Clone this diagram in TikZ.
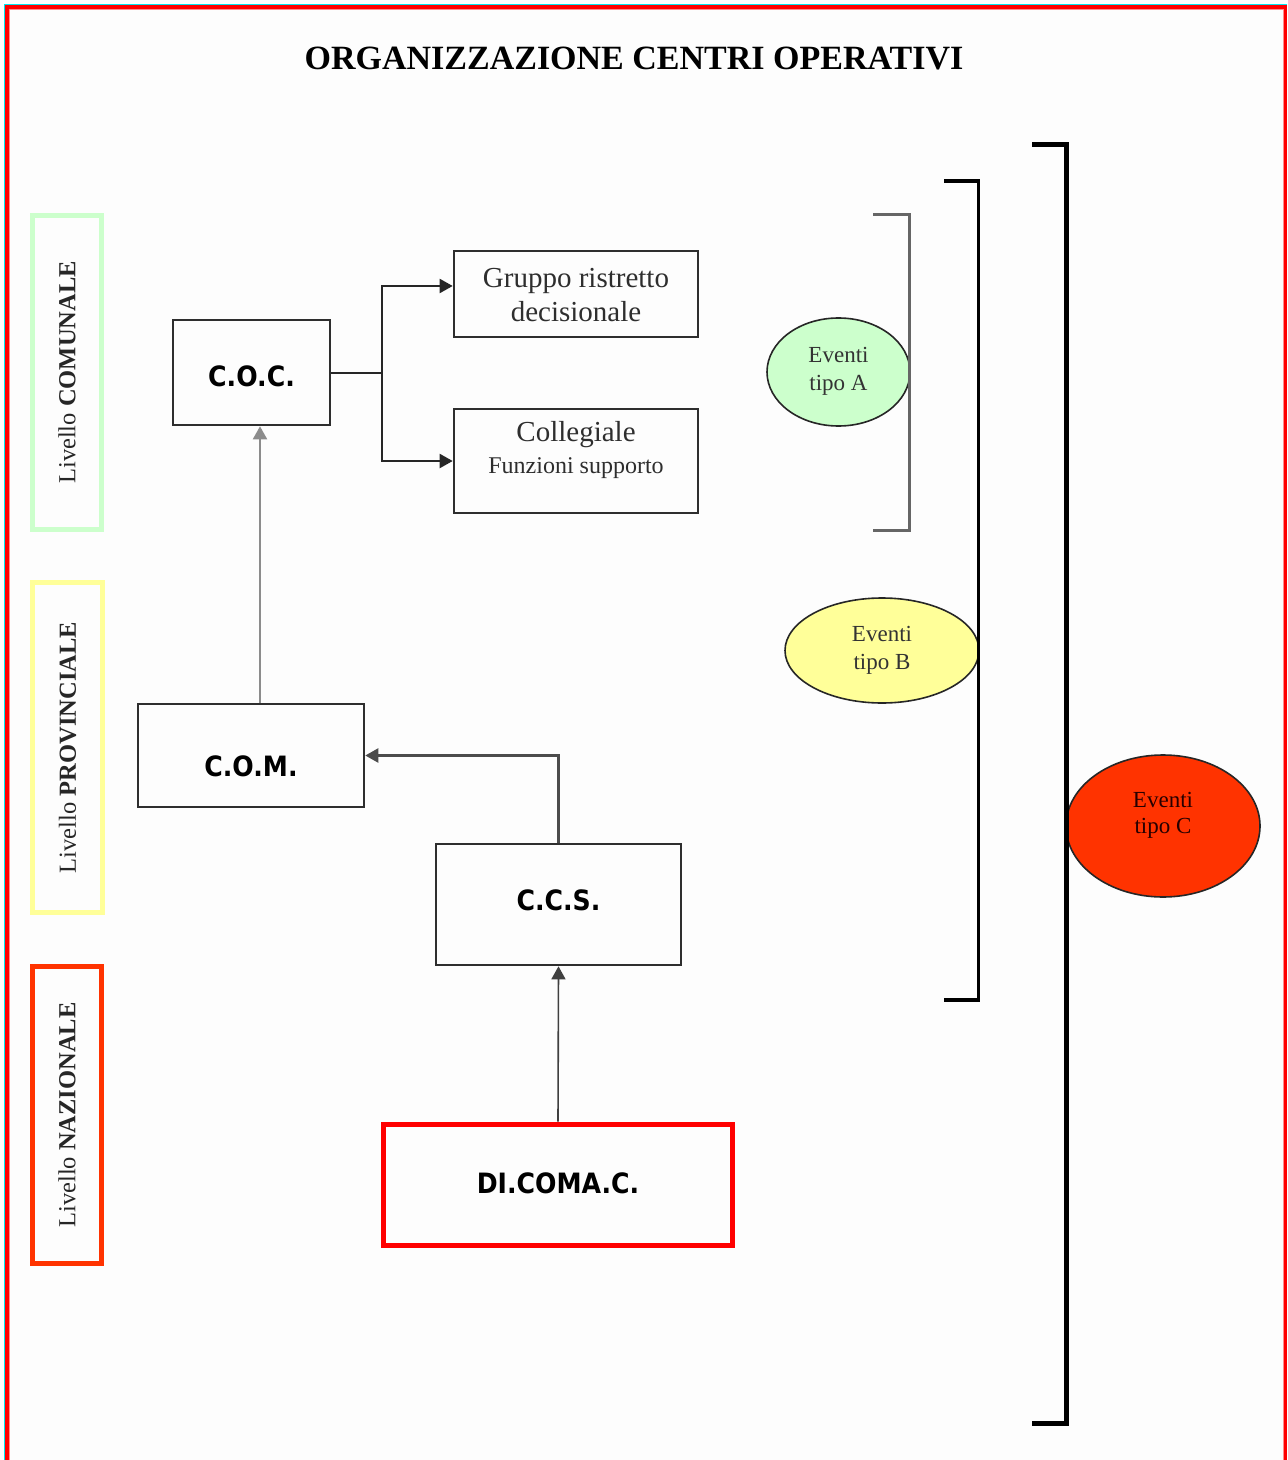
\documentclass[tikz,border=0pt]{standalone}
\usepackage{fontspec}
\setmainfont{Liberation Serif}
\newfontfamily\boxfont{DejaVu Sans}[FakeStretch=0.9]
\usetikzlibrary{arrows.meta,shapes.geometric}
\definecolor{lgreen}{HTML}{CCFFCC}
\definecolor{lyellow}{HTML}{FFFF99}
\definecolor{lred}{HTML}{FF3300}
\definecolor{boxgray}{HTML}{2E2E2E}
\definecolor{bgc}{HTML}{FDFDFD}
\definecolor{bcyan}{HTML}{00E8F0}
\definecolor{pinkred}{HTML}{FF8C8C}
\begin{document}
\begin{tikzpicture}[x=0.5pt, y=-0.5pt,
  box/.style={rectangle, draw=boxgray, line width=1.3pt, inner sep=0pt},
  boxlbl/.style={font=\boxfont\bfseries\fontsize{14}{16}\selectfont, text=black, inner sep=0pt},
  serif/.style={align=center, text=boxgray, inner sep=0pt},
  level/.style={rectangle, rotate=90, line width=2.5pt, inner sep=0pt, font=\fontsize{12.25}{14}\selectfont, text=black!85},
  ev/.style={ellipse, draw=black!85, line width=0.8pt, inner sep=0pt},
  evtxt/.style={align=center, font=\fontsize{11.5}{14}\selectfont, text=black!80, inner sep=0pt},
  arr/.style={-{Triangle[length=6.5pt,width=7pt]}, line width=1pt}
]
\useasboundingbox (0,0) rectangle (1287,1460);
\fill[white] (0,0) rectangle (1287,1460);
\fill[bgc] (4.5,4.5) rectangle (1287,1460);
% frame
\draw[bcyan, line width=0.7pt] (4.5,1460) -- (4.5,4.5) -- (1287,4.5);
\draw[red, line width=1.8pt] (6.8,1460) -- (6.8,6.8) -- (1285.5,6.8) -- (1285.5,1460);
\draw[pinkred, line width=0.6pt] (9.3,1460) -- (9.3,9.3) -- (1283.6,9.3) -- (1283.6,1460);

% title
\node[font=\bfseries\fontsize{17}{20}\selectfont, inner sep=0pt] (title) at (634,58.5) {ORGANIZZAZIONE CENTRI OPERATIVI};

% level boxes
\node[level, draw=lgreen, minimum width=157pt, minimum height=34.5pt] (lvcom) at (67,372.5) {Livello \textbf{COMUNALE}};
\node[level, draw=lyellow, minimum width=165pt, minimum height=35pt] (lvprov) at (67.5,747.5) {Livello \textbf{PROVINCIALE}};
\node[level, draw=lred, minimum width=148.5pt, minimum height=34.5pt] (lvnaz) at (67,1115) {Livello \textbf{NAZIONALE}};

% boxes
\node[box, minimum width=78.5pt, minimum height=52.5pt] (coc) at (251.5,372.5) {};
\node[boxlbl] (coctxt) at (251.5,376) {C.O.C.};
\node[box, minimum width=122pt, minimum height=43pt] (grp) at (576,294) {};
\node[serif, font=\fontsize{14.5}{17}\selectfont] (grptxt) at (576,295) {Gruppo ristretto\\decisionale};
\node[box, minimum width=122pt, minimum height=52pt] (col) at (576,461) {};
\node[serif, font=\fontsize{14.5}{16}\selectfont] (coltxt) at (576,450) {Collegiale\\{\fontsize{12}{16}\selectfont Funzioni supporto}};
\node[box, minimum width=113pt, minimum height=51.5pt] (com) at (251,755.5) {};
\node[boxlbl] (comtxt) at (251,766) {C.O.M.};
\node[box, minimum width=122.5pt, minimum height=60.5pt] (ccs) at (558.5,904.5) {};
\node[boxlbl] (ccstxt) at (558.5,900) {C.C.S.};
\node[box, draw=red, line width=2.5pt, minimum width=174.5pt, minimum height=60.5pt] (dic) at (558,1184.5) {};
\node[boxlbl] (dictxt) at (558,1183) {DI.COMA.C.};

% connectors
\coordinate (fork) at (381.5,372.5);
\draw[line width=1pt, draw=black!85] (coc.east) -- (fork);
\draw[arr, draw=black!85] (fork) |- ([yshift=4pt]grp.west);
\draw[arr, draw=black!85] (fork) |- (col.west);
\draw[arr, draw=black!45] ([xshift=4.5pt]com.north) -- ([xshift=4.5pt]com.north |- coc.south);
\draw[arr, draw=black!70, line width=1.2pt] (ccs.north) |- (com.east);
\draw[arr, draw=black!75, line width=0.8pt] (dic.north) -- (ccs.south);

% events
\node[ev, fill=lgreen, minimum width=71.5pt, minimum height=54pt] (eva) at (838.5,372) {};
\node[evtxt] (evatxt) at (838.5,371) {Eventi\\tipo A};
\node[ev, fill=lyellow, minimum width=97pt, minimum height=52.5pt] (evb) at (882,650.5) {};
\node[evtxt] (evbtxt) at (882,650.5) {Eventi\\tipo B};
\node[ev, fill=lred, minimum width=97pt, minimum height=71pt] (evc) at (1163,826) {};
\node[evtxt, font=\fontsize{11.5}{13}\selectfont, text=black!85!red] (evctxt) at (1163,815) {Eventi\\tipo C};

% brackets
\draw[draw=black!60, line width=1.25pt] (873,214.5) -- (909.5,214.5) -- (909.5,530.5) -- (873,530.5);
\draw[draw=black, line width=1.75pt] (944,181) -- (978.5,181) -- (978.5,1000) -- (944,1000);
\draw[draw=black, line width=2.5pt] (1032,145) -- (1066.5,145) -- (1066.5,1423.5) -- (1032,1423.5);
\end{tikzpicture}
\end{document}
